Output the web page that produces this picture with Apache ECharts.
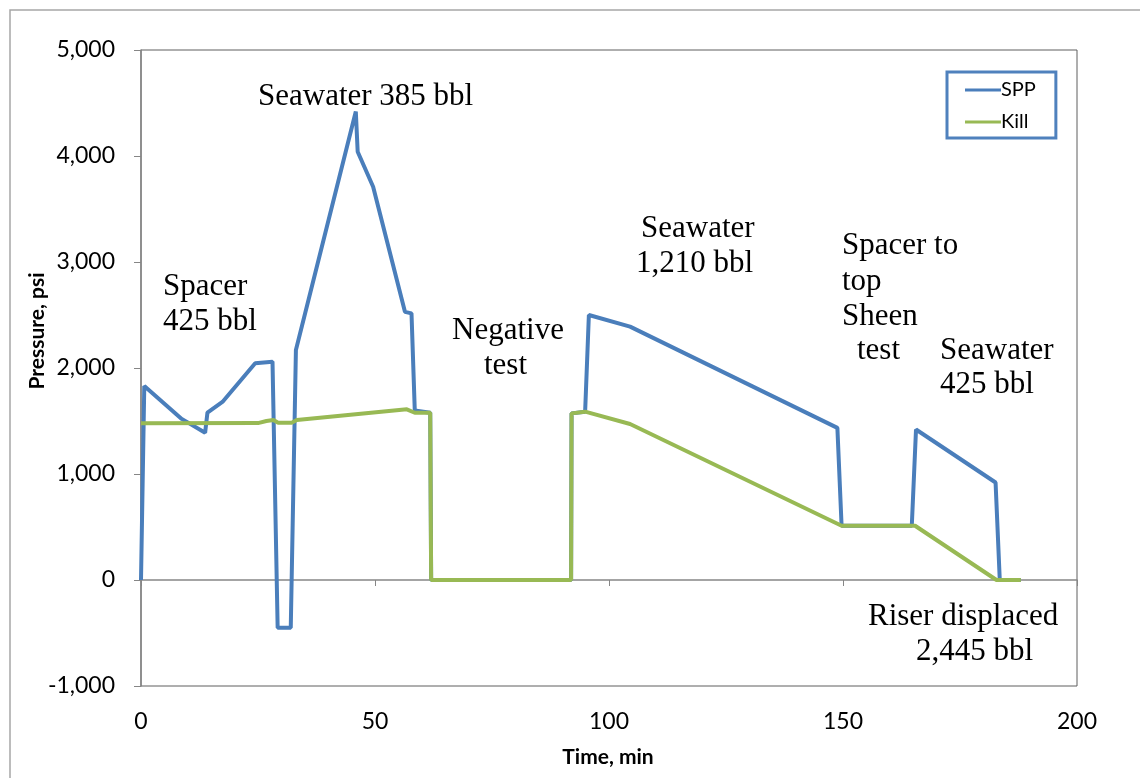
<!DOCTYPE html>
<html>
<head>
<meta charset="utf-8">
<script src="https://cdn.jsdelivr.net/npm/echarts@6/dist/echarts.min.js"></script>
<style>
  html, body { margin: 0; padding: 0; background: #fff; }
  #main { width: 1140px; height: 778px; }
</style>
</head>
<body>
<div id="main"></div>
<script>
// data (time in min, pressure in psi)
var sppTime  = [0, 0.7, 8.7, 13.7, 14.2, 17.4, 24.4, 28.1, 29.2, 32.0, 33.1, 45.9, 46.3, 49.6, 56.4, 57.8, 58.5, 61.8, 62.0, 91.9, 92.0, 94.9, 95.7, 104.5, 148.8, 149.7, 164.7, 165.6, 182.6, 183.5, 188];
var sppValue = [0, 1830, 1520, 1390, 1580, 1680, 2045, 2060, -450, -450, 2170, 4420, 4040, 3710, 2530, 2515, 1600, 1578, 0, 0, 1572, 1588, 2500, 2390, 1435, 512, 512, 1420, 920, 0, 0];
var killTime  = [0, 25.0, 26.8, 28.3, 29.3, 32.2, 33.3, 56.8, 58.5, 61.8, 62.0, 91.9, 92.0, 94.9, 104.5, 149.7, 165.4, 182.8, 188];
var killValue = [1478, 1480, 1500, 1509, 1484, 1484, 1509, 1610, 1578, 1578, 0, 0, 1572, 1588, 1472, 512, 512, 0, 0];
var xTicks = [0, 50, 100, 150, 200];
var yTicks = [-1000, 0, 1000, 2000, 3000, 4000, 5000];

function zip(a, b) {
    return a.map(function (t, i) { return [t, b[i]]; });
}
function fmt(v) {
    return v.toLocaleString('en-US');
}

var myChart = echarts.init(document.getElementById('main'));
var serif = '"Liberation Serif", "Times New Roman", serif';
var sans = 'Lato, "Open Sans", sans-serif';

// one annotation line: x = left edge, y = vertical centre
function note(x, y, text) {
    return {
        type: 'text', x: x, y: y, silent: true,
        style: { text: text, font: '31px ' + serif, fill: '#000', align: 'left', verticalAlign: 'middle' }
    };
}

var option = {
    animation: false,
    grid: { left: 141, top: 50, right: 63, bottom: 92, show: true, borderColor: '#5f5f5f', borderWidth: 1 },
    legend: {
        data: ['SPP', 'Kill'],
        icon: 'rect',
        orient: 'vertical',
        left: 947, top: 72,
        width: 108,
        padding: [8, 20, 6, 18],
        itemGap: 12,
        itemWidth: 36, itemHeight: 3,
        borderColor: '#4f81bd', borderWidth: 3,
        textStyle: { fontFamily: sans, fontSize: 20, color: '#000', padding: [0, 0, 0, -5] }
    },
    xAxis: [{
        type: 'value', min: 0, max: 200, interval: 50,
        axisLine: { onZero: true, lineStyle: { color: '#868686', width: 1.5 } },
        axisTick: { show: true, length: 6, lineStyle: { color: '#868686' } },
        axisLabel: { show: false },
        splitLine: { show: false }
    }, {
        type: 'value', min: 0, max: 200, interval: 50, position: 'bottom',
        axisLine: { show: false, onZero: false },
        axisTick: { show: false },
        axisLabel: { margin: 24, fontFamily: sans, fontSize: 23, color: '#000',
            formatter: function (v) { return xTicks.indexOf(v) >= 0 ? String(v) : ''; } },
        splitLine: { show: false }
    }],
    yAxis: {
        type: 'value', min: -1000, max: 5000, interval: 1000,
        axisLine: { show: true, onZero: false, lineStyle: { color: '#868686', width: 1.5 } },
        axisTick: { show: true, length: 7, lineStyle: { color: '#868686' } },
        axisLabel: { margin: 26, fontFamily: sans, fontSize: 23, color: '#000',
            formatter: function (v) { return yTicks.indexOf(v) >= 0 ? fmt(v) : ''; } },
        splitLine: { show: false }
    },
    series: [{
        name: 'SPP', type: 'line', xAxisIndex: 0,
        data: zip(sppTime, sppValue),
        symbol: 'none',
        lineStyle: { color: '#4a7ebb', width: 4 },
        itemStyle: { color: '#4a7ebb' }
    }, {
        name: 'Kill', type: 'line', xAxisIndex: 0,
        data: zip(killTime, killValue),
        symbol: 'none',
        lineStyle: { color: '#98b954', width: 4 },
        itemStyle: { color: '#98b954' }
    }],
    graphic: [
        { type: 'rect', shape: { x: 10, y: 10, width: 1200, height: 1000 },
          style: { fill: 'none', stroke: '#a6a6a6', lineWidth: 1.5 }, silent: true },
        { type: 'text', x: 608, y: 757, silent: true,
          style: { text: 'Time, min', font: 'bold 21px ' + sans, fill: '#000', align: 'center', verticalAlign: 'middle' } },
        { type: 'text', x: 37, y: 331, rotation: Math.PI / 2, silent: true,
          style: { text: 'Pressure, psi', font: 'bold 21px ' + sans, fill: '#000', align: 'center', verticalAlign: 'middle' } },
        note(258, 97, 'Seawater 385 bbl'),
        note(163, 287, 'Spacer'),
        note(163, 322, '425 bbl'),
        note(452, 331, 'Negative'),
        note(484, 366, 'test'),
        note(641, 229, 'Seawater'),
        note(636, 264, '1,210 bbl'),
        note(842, 246, 'Spacer to'),
        note(842, 282, 'top'),
        note(842, 317, 'Sheen'),
        note(857, 351, 'test'),
        note(940, 351, 'Seawater'),
        note(940, 385, '425 bbl'),
        note(868, 617, 'Riser displaced'),
        note(916, 652, '2,445 bbl')
    ]
};

myChart.setOption(option);
</script>
</body>
</html>
